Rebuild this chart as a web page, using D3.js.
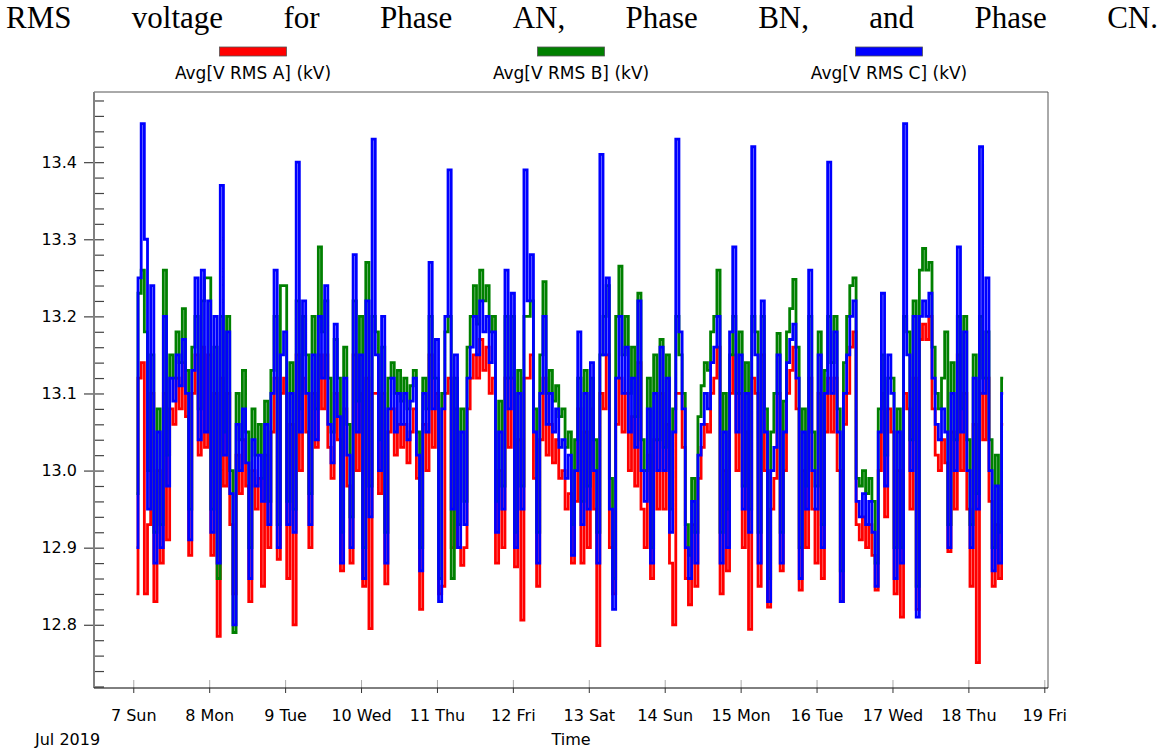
<!DOCTYPE html>
<html>
<head>
<meta charset="utf-8">
<script src="https://cdn.jsdelivr.net/npm/d3@7"></script>
<style>
  body { margin: 0; background: #fff; }
  text { font-family: "DejaVu Sans", sans-serif; fill: #000; }
</style>
</head>
<body>
<svg id="chart" width="1165" height="750"></svg>
<script>
// ---- data -------------------------------------------------------------
const titleWords = ["RMS", "voltage", "for", "Phase", "AN,", "Phase", "BN,", "and", "Phase", "CN."];
const seriesNames = ["Avg[V RMS A] (kV)", "Avg[V RMS B] (kV)", "Avg[V RMS C] (kV)"];
const seriesColors = ["#ff0000", "#008000", "#0000ff"];
const yMajorTicks = [12.8, 12.9, 13.0, 13.1, 13.2, 13.3, 13.4];
const dayLabels = ["7 Sun", "8 Mon", "9 Tue", "10 Wed", "11 Thu", "12 Fri", "13 Sat",
                   "14 Sun", "15 Mon", "16 Tue", "17 Wed", "18 Thu", "19 Fri"];
const monthLabel = "Jul 2019";
const xAxisTitle = "Time";

// hourly averages, first sample 7 Jul 2019 01:00
const firstSampleUTC = Date.UTC(2019, 6, 7, 1);

// Phase A (kV)
const vA = [
  12.84,13.12,13.14,12.84,12.93,13.10,12.83,13.00,12.88,13.10,12.91,13.08,13.06,13.12,13.08,13.14,13.07,12.89,13.10,13.15,13.02,13.16,13.03,
  13.15,12.89,13.10,12.785,13.12,12.98,13.10,12.93,12.84,13.02,12.97,13.04,12.98,12.83,13.00,12.95,12.99,12.85,13.02,12.90,13.05,13.12,12.885,13.10,
  13.12,12.86,13.06,12.80,13.15,13.00,13.12,13.05,12.90,13.10,13.03,13.15,13.08,13.15,13.03,12.99,13.10,13.04,12.87,13.08,12.98,12.88,13.15,13.00,
  13.10,12.85,13.12,12.795,13.10,13.10,12.97,13.10,12.853,13.05,13.08,13.02,13.06,13.03,13.06,13.01,13.05,13.08,12.99,12.82,13.06,13.00,13.15,13.03,
  13.10,12.84,12.85,13.10,13.12,12.90,13.08,12.90,12.877,12.90,13.08,13.12,13.15,13.12,13.17,13.13,13.16,13.10,13.12,12.88,13.00,12.90,13.12,13.03,
  13.12,12.875,13.04,12.806,13.12,13.12,13.15,12.99,12.85,13.04,13.12,13.02,13.06,13.01,13.04,12.99,13.00,12.95,12.97,12.88,12.96,13.08,12.88,13.05,
  12.90,13.08,12.95,12.773,13.10,13.08,13.15,12.90,12.84,13.06,13.12,13.05,13.10,13.00,13.07,12.98,13.14,12.95,12.90,13.02,12.86,13.04,12.95,13.10,
  12.95,13.06,12.88,12.80,13.10,13.10,13.03,12.86,12.826,12.93,12.85,12.99,13.03,13.06,13.05,13.10,13.12,13.16,12.84,13.00,12.87,13.10,13.15,13.00,
  13.10,12.90,13.05,12.794,13.12,13.10,12.85,13.15,13.00,12.823,12.95,12.99,13.10,12.87,13.00,13.10,13.13,13.16,13.08,12.845,13.00,12.90,13.12,12.95,
  12.88,13.10,12.86,13.05,13.12,13.05,13.12,13.00,12.83,13.06,13.10,13.16,13.18,12.93,12.91,12.94,12.90,12.93,12.89,12.845,13.00,13.10,12.94,13.08,
  13.05,12.84,13.00,12.81,13.10,13.08,12.95,13.12,12.82,13.17,13.19,13.17,13.20,13.08,13.02,13.00,13.04,13.01,12.895,13.05,12.95,13.15,13.00,13.10,
  12.95,12.85,13.06,12.751,13.10,13.04,13.12,12.96,12.85,12.93,12.86,13.06
];

// Phase B (kV)
const vB = [
  12.97,13.23,13.26,13.18,13.00,13.15,12.92,13.08,12.93,13.26,13.02,13.15,13.12,13.18,13.14,13.21,13.13,12.95,13.16,13.20,13.08,13.22,13.25,
  13.25,12.95,13.16,12.86,13.20,13.05,13.20,13.00,12.79,13.10,13.04,13.13,13.05,12.90,13.08,13.02,13.06,12.99,13.09,12.96,13.13,13.20,12.93,13.24,
  13.24,12.96,13.14,12.95,13.22,13.08,13.20,13.15,12.97,13.20,13.08,13.29,13.18,13.22,13.12,13.05,13.17,13.12,12.92,13.16,13.06,12.94,13.22,13.09,
  13.20,12.90,13.27,12.98,13.20,13.18,13.04,13.16,12.92,13.12,13.14,13.10,13.13,13.09,13.12,13.08,13.11,13.13,13.05,12.90,13.12,13.08,13.20,13.12,
  13.12,12.86,13.10,13.18,13.20,12.86,13.12,12.93,13.08,12.96,13.16,13.20,13.24,13.19,13.26,13.22,13.24,13.18,13.20,12.96,13.09,12.98,13.20,13.12,
  13.20,12.92,13.13,12.98,13.20,13.20,13.22,13.08,12.92,13.15,13.245,13.10,13.13,13.09,13.11,13.07,13.08,13.03,13.05,12.93,13.04,13.12,12.96,13.13,
  12.98,13.12,13.04,12.92,13.15,13.20,13.24,12.99,12.86,13.20,13.265,13.15,13.20,13.10,13.16,13.07,13.23,13.04,13.00,13.12,12.90,13.15,13.04,13.17,
  13.03,13.15,12.95,13.08,13.20,13.15,13.10,12.93,12.89,12.99,12.92,13.07,13.11,13.14,13.13,13.18,13.20,13.26,12.92,13.10,12.95,13.15,13.20,13.10,
  13.18,12.98,13.14,12.95,13.20,13.18,12.92,13.20,13.08,12.86,13.05,13.10,13.178,12.92,13.09,13.18,13.21,13.248,13.16,12.90,13.08,12.98,13.20,13.05,
  12.98,13.18,12.93,13.13,13.20,13.14,13.20,13.08,12.87,13.14,13.20,13.24,13.25,12.99,12.98,13.00,12.97,12.99,12.96,12.88,13.08,13.15,13.02,13.12,
  13.12,12.90,13.08,12.90,13.20,13.18,13.04,13.22,12.85,13.26,13.288,13.26,13.27,13.16,13.10,13.08,13.12,13.18,12.93,13.14,13.04,13.20,13.08,13.20,
  13.04,12.93,13.15,12.97,13.20,13.12,13.18,13.04,12.90,13.02,12.92,13.12
];

// Phase C (kV)
const vC = [
  12.90,13.25,13.45,13.30,12.95,13.24,12.88,13.05,12.90,13.20,12.98,13.12,13.09,13.15,13.11,13.17,13.10,12.91,13.13,13.25,13.04,13.26,13.05,
  13.22,12.92,13.20,12.88,13.37,13.02,13.18,12.97,12.80,13.06,13.00,13.08,13.01,12.86,13.04,12.98,13.02,12.96,13.06,12.93,13.10,13.26,12.90,13.15,
  13.18,12.93,13.10,12.92,13.40,13.05,13.22,13.10,12.93,13.15,13.04,13.20,13.12,13.24,13.06,13.01,13.19,13.07,12.88,13.12,13.02,12.90,13.28,13.05,
  13.15,12.86,13.22,12.94,13.43,13.15,13.00,13.20,12.88,13.08,13.12,13.05,13.10,13.06,13.10,13.04,13.09,13.12,13.02,12.87,13.10,13.05,13.27,13.08,
  13.17,12.83,13.08,13.20,13.39,12.95,13.15,12.90,13.05,12.93,13.12,13.16,13.20,13.15,13.22,13.18,13.20,13.14,13.18,12.92,13.05,12.95,13.26,13.08,
  13.23,12.90,13.10,12.95,13.39,13.22,13.28,13.05,12.88,13.10,13.20,13.06,13.10,13.05,13.08,13.03,13.04,12.99,13.02,12.89,13.00,13.18,12.93,13.10,
  12.95,13.14,13.00,12.88,13.41,13.15,13.25,12.95,12.82,13.12,13.20,13.10,13.16,13.05,13.12,13.03,13.22,13.00,12.96,13.08,12.88,13.10,13.00,13.16,
  13.00,13.12,12.92,13.05,13.43,13.18,13.08,12.90,12.86,12.96,12.88,13.02,13.06,13.10,13.08,13.14,13.16,13.20,12.88,13.05,12.90,13.18,13.29,13.05,
  13.15,12.95,13.10,12.92,13.42,13.15,12.88,13.22,13.05,12.83,13.00,13.03,13.15,12.88,13.05,13.14,13.17,13.19,13.12,12.86,13.05,12.95,13.26,13.00,
  12.95,13.15,12.90,13.10,13.40,13.10,13.18,13.05,12.83,13.10,13.15,13.20,13.22,12.96,12.94,12.97,12.93,12.96,12.92,12.85,13.05,13.23,12.98,13.15,
  13.10,12.86,13.05,12.88,13.45,13.15,13.00,13.20,12.81,13.20,13.22,13.20,13.23,13.12,13.06,13.04,13.08,13.05,12.90,13.10,13.00,13.29,13.05,13.18,
  13.00,12.90,13.12,12.95,13.42,13.10,13.25,13.00,12.87,12.98,12.88,13.10
];

// ---- layout -----------------------------------------------------------
const svg = d3.select("#chart");
const plot = { left: 94, right: 1048, top: 92, bottom: 688 };

const x = d3.scaleUtc()
  .domain([new Date(Date.UTC(2019, 6, 6, 11, 35)), new Date(Date.UTC(2019, 6, 19, 1, 10))])
  .range([plot.left, plot.right]);
const y = d3.scaleLinear()
  .domain([12.718, 13.491])
  .range([plot.bottom, plot.top]);

// ---- title, spread evenly across the page width ------------------------
const titleG = svg.append("g");
const tw = titleG.selectAll("text").data(titleWords).join("text")
  .attr("y", 28)
  .style("font-family", '"Liberation Serif", "Times New Roman", serif')
  .style("font-size", "31px")
  .text(d => d);
const widths = tw.nodes().map(n => n.getComputedTextLength());
const titleL = 6, titleR = 1158;
const gap = (titleR - titleL - d3.sum(widths)) / (titleWords.length - 1);
let cx = titleL;
tw.attr("x", (d, i) => { const p = cx; cx += widths[i] + gap; return p; });

// ---- legend ------------------------------------------------------------
const legendX = d3.scaleBand().domain(seriesNames).range([plot.left, plot.right]);
const lg = svg.append("g").selectAll("g").data(seriesNames).join("g")
  .attr("transform", d => `translate(${legendX(d) + legendX.bandwidth() / 2},0)`);
lg.append("rect")
  .attr("x", -33.5).attr("y", 47).attr("width", 67).attr("height", 9)
  .attr("fill", (d, i) => seriesColors[i])
  .attr("stroke", "#555").attr("stroke-width", 0.8);
lg.append("text")
  .attr("y", 79).attr("text-anchor", "middle")
  .style("font-size", "17px")
  .text(d => d);

// ---- series ------------------------------------------------------------
svg.append("clipPath").attr("id", "plotClip").append("rect")
  .attr("x", plot.left).attr("y", plot.top)
  .attr("width", plot.right - plot.left).attr("height", plot.bottom - plot.top);

const toPoints = arr => arr.map((v, i) => ({ t: new Date(firstSampleUTC + i * 3600e3), v }));
const line = d3.line().x(d => x(d.t)).y(d => y(d.v)).curve(d3.curveStep);

svg.append("g").attr("clip-path", "url(#plotClip)")
  .selectAll("path").data([vA, vB, vC]).join("path")
  .attr("d", d => line(toPoints(d)))
  .attr("fill", "none")
  .attr("stroke", (d, i) => seriesColors[i])
  .attr("stroke-width", 2.8)
  .attr("stroke-linejoin", "miter");

// ---- frame -------------------------------------------------------------
svg.append("path")
  .attr("d", `M${plot.left},${plot.top}H${plot.right}V${plot.bottom}`)
  .attr("fill", "none").attr("stroke", "#555").attr("stroke-width", 1);

// ---- y axis ------------------------------------------------------------
const minorTicks = d3.range(12.72, 13.49, 0.02).map(v => +v.toFixed(2))
  .filter(v => !yMajorTicks.some(m => Math.abs(m - v) < 1e-6));
const yMinor = svg.append("g").attr("transform", `translate(${plot.left + 10},0)`)
  .call(d3.axisLeft(y).tickValues(minorTicks).tickSize(10).tickFormat(""));
const yMajor = svg.append("g").attr("transform", `translate(${plot.left + 10},0)`)
  .call(d3.axisLeft(y).tickValues(yMajorTicks).tickSize(20).tickPadding(7).tickFormat(d3.format(".1f")));
[yMinor, yMajor].forEach(g => {
  g.select(".domain").remove();
  g.selectAll(".tick line").attr("stroke", "#444").attr("stroke-width", 1.2);
});
yMajor.selectAll("text").style("font-size", "16px").style("font-family", '"DejaVu Sans", sans-serif').attr("fill", "#000");
svg.append("line")
  .attr("x1", plot.left).attr("x2", plot.left)
  .attr("y1", plot.top).attr("y2", plot.bottom)
  .attr("stroke", "#808080").attr("stroke-width", 2);

// ---- x axis ------------------------------------------------------------
const days = d3.utcDay.range(new Date(Date.UTC(2019, 6, 7)), new Date(Date.UTC(2019, 6, 20)));
const xUp = svg.append("g").attr("transform", `translate(0,${plot.bottom})`)
  .call(d3.axisTop(x).tickValues(days).tickSize(8).tickFormat(""));
xUp.select(".domain").remove();
xUp.selectAll(".tick line").attr("stroke", "#aaa");

const xAxis = svg.append("g").attr("transform", `translate(0,${plot.bottom})`)
  .call(d3.axisBottom(x).tickValues(days).tickSize(5).tickPadding(17)
    .tickFormat((d, i) => dayLabels[i]));
xAxis.select(".domain").attr("d", `M${plot.left},0H${plot.right}`).attr("stroke", "#000");
xAxis.selectAll(".tick line").attr("stroke", "#333");
xAxis.selectAll("text").style("font-size", "16px").style("font-family", '"DejaVu Sans", sans-serif').attr("fill", "#000");

svg.append("text").attr("x", 35).attr("y", 745).style("font-size", "16px").text(monthLabel);
svg.append("text").attr("x", (plot.left + plot.right) / 2).attr("y", 745)
  .attr("text-anchor", "middle").style("font-size", "16px").text(xAxisTitle);
</script>
</body>
</html>
